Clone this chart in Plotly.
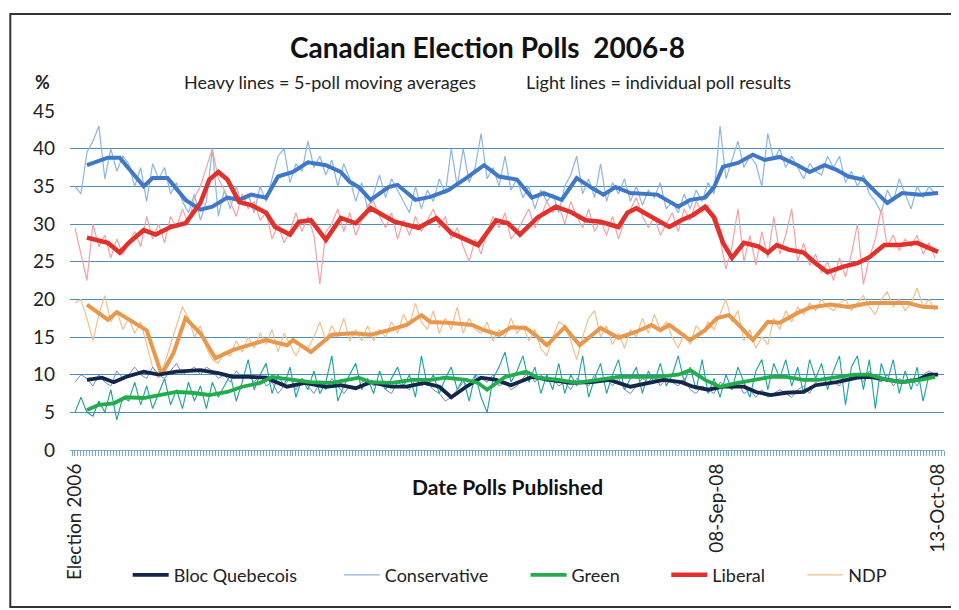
import plotly.graph_objects as go

# ---------------- data ----------------
N_POLLS = 290
LIGHT_POLL = list(range(0, 290, 2))  # poll numbers sampled for the light lines

CON = [35.0, 34.0, 39.5, 41.0, 43.0, 36.0, 40.0, 37.0, 39.0, 38.0,
       35.0, 37.5, 33.0, 38.0, 36.0, 37.5, 34.0, 35.5, 33.0, 31.5,
       34.0, 30.5, 33.0, 40.0, 31.0, 34.5, 32.0, 35.0, 32.5, 34.0,
       31.5, 35.0, 33.0, 36.0, 39.0, 40.0, 35.5, 38.0, 37.0, 41.0,
       37.5, 39.0, 36.5, 38.5, 35.0, 38.0, 36.0, 33.0, 35.5, 32.0,
       34.0, 36.5, 33.5, 36.0, 34.5, 33.0, 31.5, 35.0, 32.0, 34.5,
       33.0, 36.0, 34.0, 40.0, 35.0, 40.0, 35.5, 37.5, 42.0, 36.0,
       37.5, 35.0, 39.0, 34.5, 36.0, 33.5, 35.0, 32.0, 34.5, 33.0,
       34.0, 31.5, 35.0, 36.5, 39.0, 34.0, 36.0, 33.5, 38.0, 33.0,
       35.5, 34.0, 36.0, 33.0, 35.0, 32.5, 34.5, 33.5, 35.5, 32.0,
       33.0, 31.5, 34.0, 32.0, 34.5, 33.0, 35.5, 34.0, 43.0, 36.0,
       38.5, 41.0, 37.5, 39.0, 38.0, 35.0, 42.0, 38.5, 40.0, 37.5,
       39.0, 37.5, 36.0, 38.0, 37.0, 36.5, 39.0, 37.5, 39.0, 35.5,
       37.0, 35.0, 36.5, 34.0, 33.0, 31.5, 34.5, 33.0, 36.0, 34.0,
       32.0, 35.0, 33.5, 35.0, 34.0]

LIB = [29.5, 26.0, 22.5, 30.0, 27.0, 28.5, 25.5, 28.0, 26.0, 27.5,
       29.0, 27.0, 31.0, 28.0, 30.0, 27.5, 31.0, 29.5, 32.0, 30.0,
       33.5, 35.0, 37.5, 40.0, 36.0, 34.5, 33.0, 31.0, 34.0, 32.0,
       33.0, 30.5, 31.5, 28.0, 30.0, 27.5, 29.0, 31.5, 29.0, 31.0,
       28.5, 22.0, 29.0, 30.0, 32.0, 29.0, 31.5, 28.5, 30.5, 32.5,
       33.0, 31.0, 29.5, 31.5, 28.0, 30.5, 28.5, 31.0, 29.0, 30.5,
       32.0, 29.5, 31.0, 28.0, 29.5, 27.0, 25.0, 28.0, 26.0, 29.0,
       31.0, 29.5, 31.5, 28.0, 29.0, 30.5, 32.0, 29.5, 31.0, 33.0,
       31.5, 32.5, 30.0, 33.0, 31.0, 29.5, 32.0, 29.0, 30.5, 28.5,
       31.0, 28.0, 30.5, 32.0, 33.5, 31.0, 29.5, 31.0, 28.5, 30.0,
       31.5, 29.0, 32.0, 30.5, 33.0, 31.5, 32.5, 30.0, 28.0, 24.0,
       27.0, 32.0, 25.0, 28.5, 24.5, 29.0, 25.5, 31.0, 26.0, 28.5,
       32.0, 25.0, 27.5, 24.5, 26.0, 23.5, 25.0, 22.5, 25.5, 23.0,
       26.0, 30.0, 22.0, 25.5, 28.0, 32.0, 27.0, 28.5, 26.5, 28.0,
       27.0, 28.5, 26.0, 27.5, 25.5]

NDP = [19.5, 20.0, 17.5, 14.5, 18.0, 20.5, 17.0, 18.5, 16.0, 17.5,
       15.5, 17.0, 14.0, 11.0, 9.5, 11.5, 14.0, 16.5, 19.0, 17.5,
       15.0, 16.5, 13.5, 12.0, 11.5, 13.0, 12.5, 14.5, 13.0, 15.0,
       13.5, 15.5, 14.0, 16.0, 13.0, 15.5, 14.0, 12.5, 14.0, 13.5,
       15.0, 17.0, 14.5, 16.5, 15.0, 17.5, 14.5, 16.0, 14.5, 16.5,
       14.5, 16.0, 15.0, 17.0, 15.5, 18.0, 16.5, 19.5, 17.0, 16.0,
       18.5, 15.5, 17.5, 16.0, 19.0, 15.5, 17.5, 16.0, 15.5, 17.0,
       14.5, 16.0, 15.0, 17.5, 15.5, 16.5, 14.5, 16.0, 13.5, 12.5,
       15.0, 17.0, 16.5, 14.5, 12.0, 15.0, 17.5, 18.5, 15.0, 16.5,
       14.0, 15.5, 13.5, 16.0, 15.0, 17.5, 15.5, 18.0, 16.0, 17.0,
       15.0, 13.5, 15.5, 14.0, 16.5, 15.5, 17.0, 16.0, 18.0, 20.0,
       17.0, 18.5, 14.5, 16.0, 13.5, 15.0, 14.0, 17.5, 16.0, 18.5,
       17.0, 19.0, 18.0, 19.5, 18.5, 20.0, 19.0, 18.5, 19.5, 20.0,
       18.5, 19.5, 20.5, 19.0, 18.0, 20.0, 21.0, 19.0, 20.0, 18.5,
       19.5, 21.5, 19.0, 20.0, 18.5]

GRN = [5.0, 7.0, 5.0, 4.5, 6.5, 5.0, 8.0, 4.0, 7.0, 6.5,
       9.0, 6.0, 8.5, 5.5, 7.5, 9.5, 6.0, 8.0, 5.5, 9.0,
       6.5, 8.5, 5.5, 9.0, 7.0, 8.5, 10.0, 6.5, 9.0, 12.0,
       8.0, 10.0, 11.5, 7.5, 10.0, 8.5, 11.0, 7.0, 9.5, 8.0,
       10.5, 7.5, 9.0, 12.5, 6.5, 8.5, 10.0, 11.5, 8.0, 9.5,
       7.5, 10.5, 8.0, 9.5, 11.0, 8.5, 10.0, 7.0, 12.5, 8.5,
       10.0, 7.5, 9.5, 11.0, 8.0, 9.5, 6.5, 10.0, 7.0, 5.0,
       9.5, 11.0, 13.0, 9.0, 10.5, 12.5, 9.0, 11.0, 7.5, 10.0,
       8.0, 11.5, 7.5, 10.0, 8.5, 12.5, 7.0, 9.5, 11.5, 7.5,
       10.0, 12.0, 8.0, 9.5, 11.0, 7.5, 10.5, 9.0, 11.5, 8.5,
       10.0, 12.5, 9.0, 11.0, 8.0, 12.0, 7.5, 9.5, 7.0, 10.0,
       8.0, 11.0, 9.0, 7.0, 10.5, 12.0, 8.0, 11.5, 9.5, 12.0,
       8.5, 11.0, 7.5, 12.0, 9.5, 11.5, 8.0, 10.5, 12.5, 6.0,
       11.0, 12.5, 8.0, 12.0, 5.5, 11.5, 9.0, 12.0, 7.5, 10.5,
       8.0, 11.0, 6.5, 10.0, 9.5]

BQ = [9.0, 10.0, 9.5, 8.5, 10.0, 9.0, 8.5, 10.5, 9.5, 10.0,
      11.0, 10.0, 9.5, 11.0, 10.0, 9.5, 10.5, 11.5, 10.0, 10.5,
      11.0, 10.0, 11.0, 10.5, 9.5, 10.0, 9.0, 10.5, 9.5, 10.0,
      9.0, 10.0, 8.5, 9.0, 7.5, 8.5, 9.5, 8.0, 9.5, 8.5,
      7.5, 9.0, 8.0, 9.5, 8.5, 7.5, 8.5, 8.0, 9.0, 9.5,
      8.5, 9.0, 8.0, 7.5, 9.0, 8.5, 8.0, 9.5, 8.5, 9.0,
      8.0, 7.5, 6.5, 7.0, 8.0, 9.0, 8.5, 10.0, 9.5, 9.0,
      10.0, 8.5, 9.0, 8.0, 8.5, 9.5, 10.5, 9.0, 10.0, 9.0,
      9.5, 8.5, 9.0, 8.0, 9.5, 9.0, 8.5, 10.0, 9.0, 9.5,
      8.5, 9.5, 8.0, 7.5, 8.5, 9.5, 9.0, 10.0, 8.5, 9.5,
      9.0, 8.5, 9.5, 8.0, 7.5, 8.5, 8.0, 7.5, 9.0, 8.5,
      8.0, 9.0, 7.5, 8.0, 7.0, 8.0, 7.0, 7.5, 8.0, 7.5,
      7.0, 8.0, 8.5, 7.5, 9.0, 8.5, 9.5, 9.0, 8.5, 10.0,
      9.5, 10.0, 9.0, 10.5, 9.5, 9.0, 10.0, 8.5, 9.5, 9.0,
      9.5, 8.5, 10.0, 10.5, 10.0]

# 5-poll moving averages (heavy lines), read at these poll numbers
CON_MA_POLL = [4, 11, 15, 23, 26, 31, 37, 42, 46, 51, 55, 59, 64, 68, 73, 78, 84, 89, 92, 95,
               99, 105, 108, 114, 119, 125, 131, 137, 142, 148, 153, 157, 163, 168, 173, 177,
               181, 186, 195, 202, 206, 211, 214, 217, 222, 227, 231, 236, 242, 246, 251, 255,
               259, 264, 268, 272, 277, 283, 289]
CON_MA = [37.8, 38.8, 38.8, 35.0, 36.1, 36.1, 33.2, 31.9, 32.3, 33.5, 33.2, 33.9, 33.5, 36.3,
          36.9, 38.2, 37.8, 36.9, 35.6, 34.9, 33.2, 34.9, 35.2, 33.2, 33.6, 34.5, 36.1, 37.8,
          36.3, 35.9, 33.5, 34.1, 33.2, 36.1, 34.8, 33.9, 34.9, 34.1, 33.9, 32.3, 33.2, 33.5,
          34.9, 37.6, 38.1, 39.2, 38.5, 38.9, 37.8, 36.9, 37.8, 37.2, 36.3, 35.9, 34.3, 32.8,
          34.1, 33.9, 34.1]

LIB_MA_POLL = [4, 11, 15, 18, 23, 27, 32, 37, 42, 45, 48, 51, 55, 59, 64, 67, 72, 75, 79, 84,
               89, 94, 99, 107, 115, 121, 126, 135, 141, 145, 149, 155, 161, 166, 171, 176,
               182, 185, 188, 194, 199, 203, 207, 211, 214, 217, 220, 224, 229, 232, 235, 239,
               244, 248, 252, 257, 262, 266, 271, 276, 282, 289]
LIB_MA = [28.2, 27.5, 26.2, 27.5, 29.2, 28.6, 29.6, 30.1, 32.8, 35.9, 36.9, 35.9, 32.9, 32.5,
          31.5, 29.6, 28.6, 30.3, 30.5, 27.9, 30.8, 30.1, 32.1, 30.3, 29.5, 30.8, 28.8, 27.2,
          30.5, 30.1, 28.6, 30.9, 32.3, 31.6, 30.5, 30.3, 29.6, 31.5, 32.1, 30.8, 29.6, 30.5,
          31.2, 32.3, 30.9, 27.5, 25.5, 27.5, 27.0, 26.2, 27.2, 26.6, 26.2, 24.8, 23.6, 24.3,
          24.8, 25.6, 27.2, 27.2, 27.5, 26.3]

NDP_MA_POLL = [4, 11, 14, 21, 24, 27, 29, 33, 37, 42, 47, 53, 58, 64, 71, 73, 79, 86, 93, 99,
               105, 111, 116, 119, 125, 133, 137, 142, 146, 151, 155, 158, 164, 169, 176, 182,
               188, 193, 196, 199, 206, 211, 215, 219, 223, 227, 232, 236, 242, 246, 253, 259,
               266, 273, 279, 284, 289]
NDP_MA = [19.3, 17.3, 18.3, 16.6, 15.9, 12.4, 10.0, 12.9, 17.5, 15.5, 12.2, 13.3, 13.9, 14.6,
          13.9, 14.6, 13.0, 15.3, 15.5, 15.3, 15.9, 16.6, 17.9, 17.0, 16.9, 16.6, 15.9, 15.3,
          16.3, 16.2, 15.0, 13.9, 16.3, 13.9, 16.2, 14.9, 15.7, 16.6, 15.9, 16.6, 14.6, 15.9,
          17.5, 17.9, 16.3, 14.6, 17.0, 16.9, 18.2, 18.9, 19.3, 19.0, 19.5, 19.5, 19.5, 19.0,
          18.9]

BQ_MA_POLL = [4, 9, 13, 17, 23, 28, 34, 42, 48, 53, 58, 64, 71, 77, 84, 89, 94, 99, 106, 111,
              117, 122, 126, 131, 136, 141, 146, 153, 159, 166, 173, 179, 186, 193, 197, 203,
              207, 212, 217, 224, 228, 233, 238, 244, 248, 255, 262, 266, 273, 277, 282, 286,
              289]
BQ_MA = [9.3, 9.6, 9.0, 9.7, 10.4, 10.0, 10.4, 10.6, 10.2, 9.7, 9.7, 9.6, 8.4, 8.9, 8.4, 8.6,
         8.2, 9.0, 8.4, 8.4, 8.9, 8.4, 7.0, 8.4, 9.6, 9.3, 8.6, 9.7, 9.3, 8.9, 9.0, 9.3, 8.4,
         9.0, 9.3, 9.0, 8.4, 8.0, 8.4, 8.4, 7.7, 7.3, 7.6, 7.7, 8.6, 9.0, 9.6, 9.7, 9.3, 9.0,
         9.3, 10.0, 10.0]

GRN_MA_POLL = [4, 8, 13, 17, 23, 28, 34, 39, 45, 51, 56, 62, 66, 73, 79, 86, 92, 95, 99, 106,
               113, 119, 124, 131, 135, 138, 144, 151, 155, 162, 168, 175, 182, 188, 195, 202,
               206, 211, 216, 222, 227, 233, 238, 244, 249, 255, 261, 266, 272, 277, 283, 288]
GRN_MA = [5.3, 6.0, 6.2, 7.0, 6.9, 7.3, 7.7, 7.6, 7.3, 7.7, 8.4, 8.9, 9.7, 9.3, 9.0, 8.9, 9.3,
          9.6, 9.0, 8.9, 9.3, 9.3, 9.6, 9.3, 8.9, 8.0, 9.7, 10.4, 9.6, 9.3, 8.9, 9.3, 9.7, 9.7,
          9.7, 10.0, 10.6, 9.3, 8.4, 8.9, 9.3, 9.7, 9.7, 9.3, 9.3, 9.6, 10.0, 10.0, 9.3, 9.0,
          9.3, 9.7]

TICK_POLLS = [0, 215, 289]
TICK_TEXT = ["Election 2006", "08-Sep-08", "13-Oct-08"]
Y_TICKS = [0, 5, 10, 15, 20, 25, 30, 35, 40, 45]

FONT = "Lato, 'Open Sans', sans-serif"
NB = "\u00a0"

fig = go.Figure()

legend_names = {
    "Bloc Quebecois": "Bloc Quebecois" + NB * 8,
    "Conservative": "Conservative" + NB * 7,
    "Green": "Green" + NB * 9,
    "Liberal": "Liberal" + NB * 7,
    "NDP": "NDP",
}

# light lines (individual polls)
light = [
    ("Conservative", CON, "#8cb6e2", 1.2, True, 2),
    ("NDP", NDP, "#f0c08e", 1.2, True, 5),
    ("Liberal", LIB, "#f2a3a6", 1.2, False, 0),
    ("Green", GRN, "#1e9fa0", 1.1, False, 0),
    ("Bloc Quebecois", BQ, "#6f8fb8", 1.0, False, 0),
]
for name, vals, col, w, show, rank in light:
    fig.add_trace(go.Scatter(
        x=LIGHT_POLL, y=vals, mode="lines", name=legend_names[name],
        line=dict(color=col, width=w), showlegend=show, legendrank=rank,
        hoverinfo="skip"))

heavy = [
    ("NDP", NDP_MA_POLL, NDP_MA, "#e9974c", 4.0, False, 0),
    ("Conservative", CON_MA_POLL, CON_MA, "#3f78c8", 4.0, False, 0),
    ("Liberal", LIB_MA_POLL, LIB_MA, "#e2302a", 4.5, True, 4),
    ("Bloc Quebecois", BQ_MA_POLL, BQ_MA, "#14264a", 3.8, True, 1),
    ("Green", GRN_MA_POLL, GRN_MA, "#22ad4c", 3.8, True, 3),
]
for name, xs, vals, col, w, show, rank in heavy:
    fig.add_trace(go.Scatter(
        x=xs, y=vals, mode="lines", name=legend_names[name],
        line=dict(color=col, width=w), showlegend=show, legendrank=rank,
        hoverinfo="skip"))


def note(text, x, y, size, color="#222"):
    return dict(text=text, xref="paper", yref="paper", x=x, y=y,
                xanchor="center", yanchor="middle", showarrow=False,
                font=dict(size=size, color=color))


# the page body has an 8px margin, so the figure is 8px smaller than the window
fig.update_layout(
    width=951, height=602,
    margin=dict(l=62, r=11, t=103, b=160),
    paper_bgcolor="white", plot_bgcolor="white",
    font=dict(family=FONT, size=18, color="#222"),
    showlegend=True,
    legend=dict(orientation="h", x=0.066, y=-0.369, xanchor="left", yanchor="middle",
                font=dict(size=18, color="#222"), traceorder="normal",
                bgcolor="rgba(0,0,0,0)", itemwidth=36),
    xaxis=dict(range=[-1.67, 291], showgrid=False, zeroline=False,
               tickmode="array", tickvals=TICK_POLLS, ticktext=TICK_TEXT,
               tickangle=-90, ticks="outside", ticklen=5, tickcolor="#7aa6c8",
               tickfont=dict(size=19, color="#222"),
               showline=True, linecolor="#7aa6c8", linewidth=1,
               minor=dict(dtick=1, tick0=0, ticks="outside", ticklen=5,
                          tickcolor="#7aa6c8", showgrid=False)),
    yaxis=dict(range=[0, 45], tickmode="array", tickvals=Y_TICKS,
               showgrid=True, gridcolor="#4f8db5", gridwidth=1, zeroline=False,
               tickfont=dict(size=19, color="#222"), ticklabelstandoff=14),
    shapes=[dict(type="rect", xref="paper", yref="paper",
                 x0=-0.0683, x1=1.0114, y0=-0.463, y1=1.286,
                 line=dict(color="#333", width=2), layer="below")],
    annotations=[
        note("<b>Canadian Election Polls  2006-8</b>", 0.478, 1.189, 28, "#111"),
        note("Heavy lines = 5-poll moving averages", 0.297, 1.0855, 18),
        note("Light lines = individual poll results", 0.673, 1.0855, 18),
        note("<b>%</b>", -0.0319, 1.0855, 18),
        note("<b>Date Polls Published</b>", 0.501, -0.109, 21, "#111"),
    ],
)

fig.write_html("out.html")
